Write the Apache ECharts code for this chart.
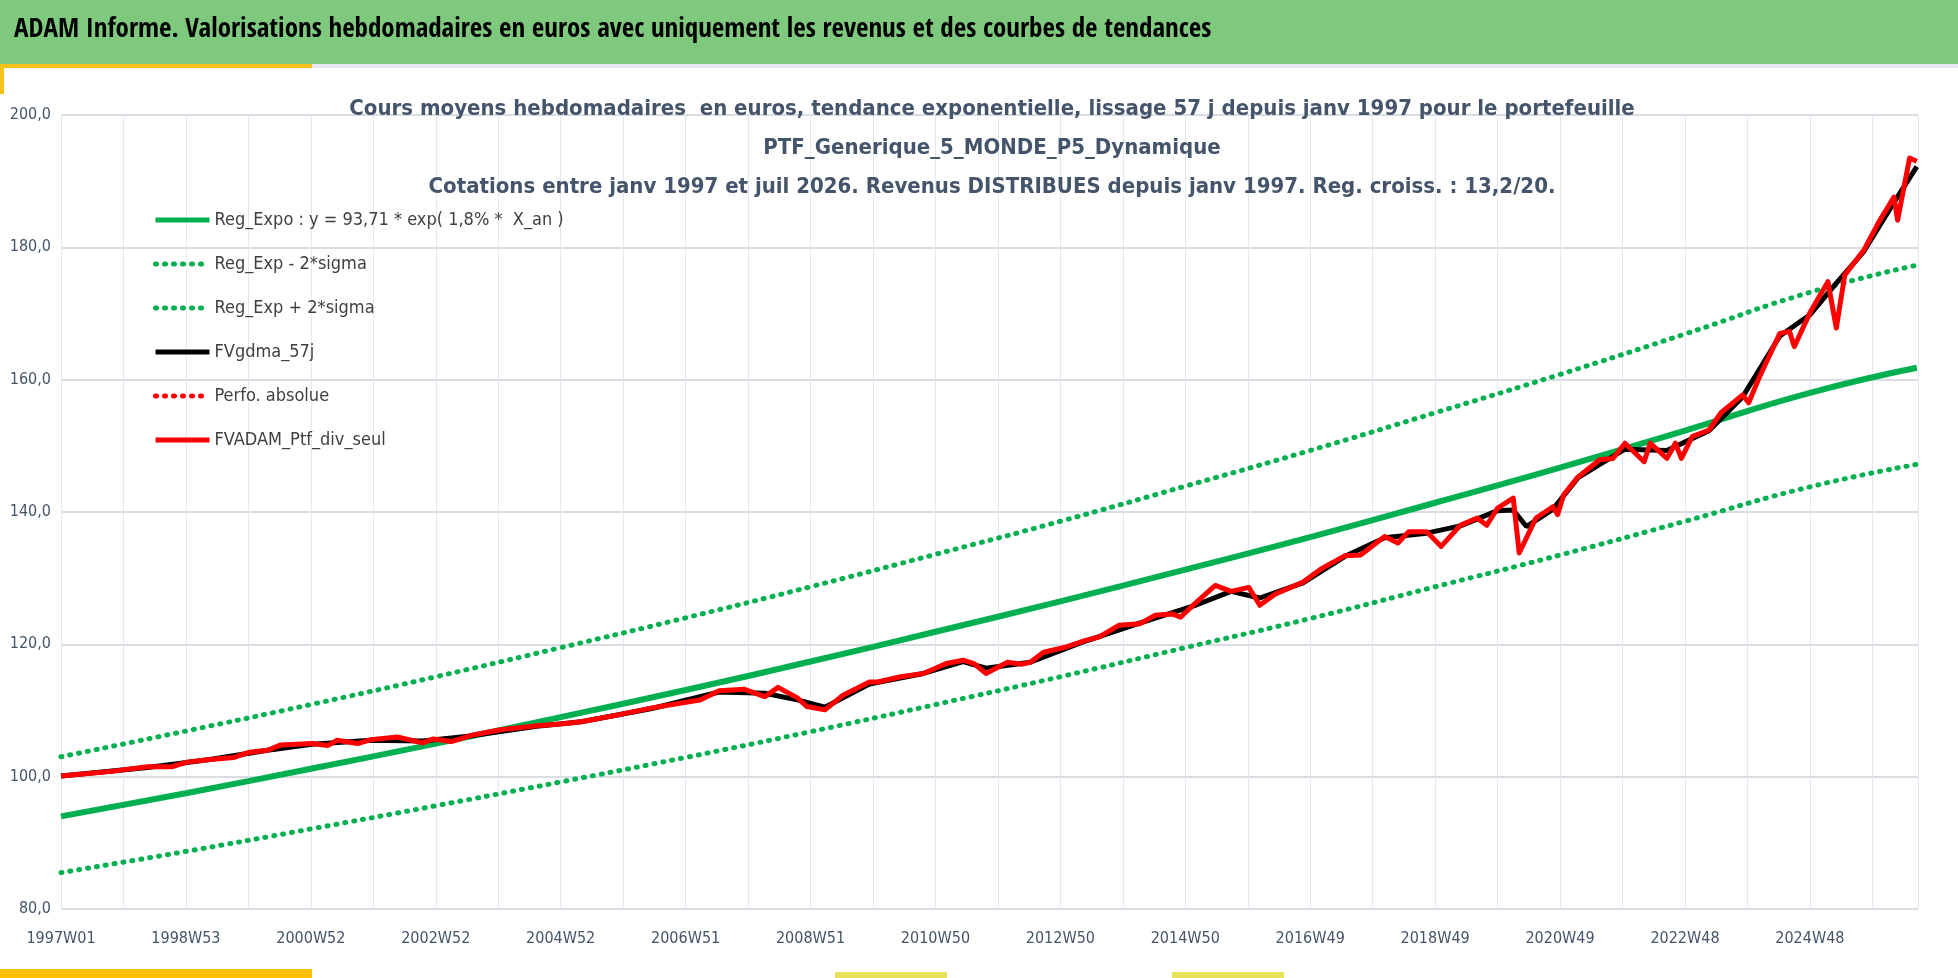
<!DOCTYPE html>
<html><head><meta charset="utf-8">
<script src="https://cdn.jsdelivr.net/npm/echarts@6/dist/echarts.min.js"></script>
<style>html,body{margin:0;padding:0;background:#fff}#c{width:1958px;height:978px}</style>
</head><body><div id="c"></div>
<script>
const tickLabels = ["1997W01","1998W53","2000W52","2002W52","2004W52","2006W51","2008W51","2010W50","2012W50","2014W50","2016W49","2018W49","2020W49","2022W48","2024W48"];
const trendWeeks = [0,104,208,312,416,520,624,728,832,936,1040,1144,1248,1352,1456,1545];
const regExpo = [94.0,97.5,101.2,105.0,109.0,113.1,117.4,121.9,126.5,131.3,136.2,141.4,146.7,152.3,158.0,161.8];
const regUpper = [103.0,106.9,110.9,115.1,119.5,124.0,128.7,133.6,138.6,143.9,149.3,155.0,160.8,166.9,173.2,177.3];
const regLower = [85.5,88.7,92.1,95.6,99.2,102.9,106.8,110.9,115.1,119.5,123.9,128.7,133.5,138.6,143.8,147.2];
const ptfWeeks = [0,42,72,92,105,124,144,157,172,183,209,222,230,247,258,280,301,310,325,343,366,396,418,433,463,492,532,548,569,586,597,613,621,636,651,673,680,699,718,737,751,760,770,788,800,807,818,837,853,864,881,898,911,925,932,943,961,974,989,998,1011,1034,1049,1069,1082,1102,1113,1122,1137,1149,1165,1179,1187,1196,1209,1214,1228,1242,1246,1251,1263,1281,1292,1302,1318,1323,1337,1344,1349,1358,1372,1382,1400,1405,1414,1431,1439,1443,1456,1471,1478,1485,1501,1513,1526,1529,1539,1545];
const ptfValues = [100.1,100.8,101.5,101.5,102.2,102.6,102.9,103.7,104.0,104.8,105.0,104.7,105.5,105.0,105.6,106.0,105.1,105.7,105.3,106.3,107.1,107.7,108.0,108.3,109.3,110.4,111.6,113.0,113.2,112.1,113.5,111.9,110.6,110.1,112.3,114.3,114.3,115.1,115.6,117.1,117.6,117.1,115.6,117.3,117.0,117.3,118.8,119.6,120.6,121.1,122.9,123.1,124.4,124.6,124.1,126.0,128.9,128.0,128.6,125.9,127.6,129.4,131.4,133.4,133.5,136.3,135.3,137.0,137.0,134.8,138.0,139.1,138.0,140.6,142.1,133.8,139.1,140.8,139.6,142.6,145.3,147.9,148.1,150.4,147.6,150.4,148.1,150.4,148.1,151.4,152.4,155.0,157.7,156.5,160.4,167.0,167.3,165.0,170.1,174.8,167.8,175.8,179.6,183.7,187.6,184.1,193.5,193.0];
const gdmaWeeks = [0,72,124,172,209,258,301,343,396,433,492,548,586,613,636,673,718,751,770,807,853,898,943,974,998,1034,1069,1102,1137,1165,1196,1209,1220,1242,1263,1302,1337,1372,1400,1431,1456,1478,1501,1526,1545];
const gdmaValues = [100.1,101.4,102.6,104.0,104.9,105.5,105.4,106.2,107.6,108.3,110.3,112.8,112.6,111.6,110.5,114.0,115.6,117.4,116.4,117.3,120.5,123.2,125.8,128.0,127.0,129.3,133.3,136.1,136.8,137.9,140.2,140.3,137.8,140.4,145.2,149.5,149.3,152.3,157.4,166.6,169.8,174.6,179.4,186.8,192.2];

const pairs = (w, v) => w.map((x, i) => [x, v[i]]);
const chart = echarts.init(document.getElementById('c'));
const dotted = (color) => ({color, width: 5, type: [1, 8], cap: 'round'});
const fnt = '"Liberation Sans Narrow", "DejaVu Sans Condensed", sans-serif';
chart.setOption({
  animation: false,
  backgroundColor: '#fff',
  graphic: [
    {type:'rect', shape:{x:0,y:0,width:1958,height:64}, style:{fill:'#7FC97F'}},
    {type:'rect', shape:{x:0,y:64,width:1958,height:4}, style:{fill:'#E6E8EE'}},
    {type:'rect', shape:{x:0,y:64,width:312,height:4}, style:{fill:'#F2C11A'}},
    {type:'rect', shape:{x:0,y:64,width:4,height:30}, style:{fill:'#F2C11A'}},
    {type:'rect', shape:{x:0,y:969,width:312,height:9}, style:{fill:'#FFC000'}},
    {type:'rect', shape:{x:835,y:972,width:112,height:6}, style:{fill:'#E8E25A'}},
    {type:'rect', shape:{x:1172,y:972,width:112,height:6}, style:{fill:'#E8E25A'}},
    {type:'text', left:14, top:16, style:{text:'ADAM Informe. Valorisations hebdomadaires en euros avec uniquement les revenus et des courbes de tendances', font:'bold 27px "Open Sans Condensed", "Liberation Sans Narrow", "DejaVu Sans Condensed", sans-serif', fill:'#000'}}
  ],
  title: {
    text: 'Cours moyens hebdomadaires  en euros, tendance exponentielle, lissage 57 j depuis janv 1997 pour le portefeuille\nPTF_Generique_5_MONDE_P5_Dynamique\nCotations entre janv 1997 et juil 2026. Revenus DISTRIBUES depuis janv 1997. Reg. croiss. : 13,2/20.',
    left: 987, top: 85, textAlign: 'center',
    textStyle: {color:'#44546A', fontSize: 22, fontWeight:'bold', lineHeight: 39, fontFamily: fnt}
  },
  legend: {
    orient:'vertical', left:148, top:206, itemGap:26, itemWidth:54, itemHeight:6,
    lineStyle:{width:5}, itemStyle:{opacity:0},
    textStyle:{fontSize:18, color:'#404040', fontFamily: fnt},
    data:['Reg_Expo : y = 93,71 * exp( 1,8% *  X_an )','Reg_Exp - 2*sigma','Reg_Exp + 2*sigma','FVgdma_57j','Perfo. absolue','FVADAM_Ptf_div_seul']
  },
  grid: {left:61, right:40, top:115, bottom:69},
  xAxis: {
    type:'value', min:0, max:1546, interval:52,
    axisLine:{show:false}, axisTick:{show:false},
    splitLine:{show:true, lineStyle:{color:'#E4E7EF', width:1}},
    axisLabel:{margin:22, color:'#44546A', fontSize:16, fontFamily: fnt,
      formatter: v => (v % 104 === 0 && tickLabels[v/104]) ? tickLabels[v/104] : ''}
  },
  yAxis: {
    type:'value', min:80, max:200, interval:20,
    axisLine:{show:false}, axisTick:{show:false},
    splitLine:{lineStyle:{color:'#D9DCE3', width:2}},
    axisLabel:{color:'#44546A', fontSize:16, fontFamily: fnt, margin:10,
      formatter: v => v.toFixed(1).replace('.', ',')}
  },
  series: [
    {name:'Reg_Expo : y = 93,71 * exp( 1,8% *  X_an )', type:'line', smooth:true, symbol:'none', data:pairs(trendWeeks, regExpo), lineStyle:{color:'#00B050', width:6}, itemStyle:{color:'#00B050'}},
    {name:'Reg_Exp - 2*sigma', type:'line', smooth:true, symbol:'none', data:pairs(trendWeeks, regLower), lineStyle:dotted('#00B050'), itemStyle:{color:'#00B050'}},
    {name:'Reg_Exp + 2*sigma', type:'line', smooth:true, symbol:'none', data:pairs(trendWeeks, regUpper), lineStyle:dotted('#00B050'), itemStyle:{color:'#00B050'}},
    {name:'FVgdma_57j', type:'line', symbol:'none', data:pairs(gdmaWeeks, gdmaValues), lineStyle:{color:'#000', width:5}, itemStyle:{color:'#000'}},
    {name:'Perfo. absolue', type:'line', symbol:'none', data:[], lineStyle:dotted('#FF0000'), itemStyle:{color:'#FF0000'}},
    {name:'FVADAM_Ptf_div_seul', type:'line', symbol:'none', data:pairs(ptfWeeks, ptfValues), lineStyle:{color:'#FF0000', width:5, join:'round'}, itemStyle:{color:'#FF0000'}}
  ]
});
</script></body></html>
